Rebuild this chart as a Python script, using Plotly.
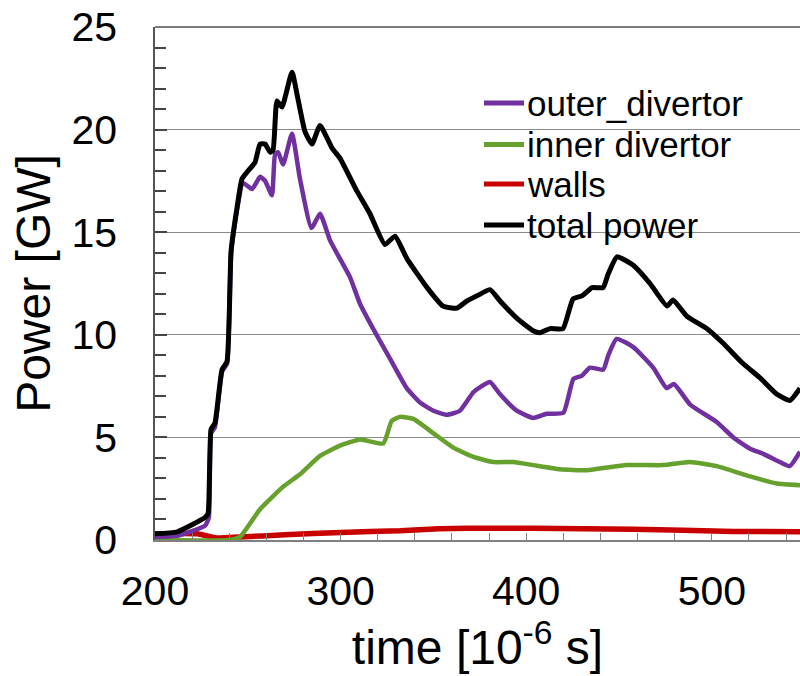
import plotly.graph_objects as go

# Time axis in microseconds, power in GW
t_total = [200, 212, 227, 228.6, 230.2, 232.3, 236.1, 238.8, 241, 244.2, 246.9, 251.2, 253.9,
           256.6, 259.3, 262, 263.6, 265.7, 268.4, 273.8, 277, 280.8, 284.6, 288.9, 295.4,
           299.7, 308.8, 315.8, 323.9, 329.3, 335.8, 346.6, 355.2, 362.7, 368.1, 373.5,
           380.5, 385.9, 395.0, 403.7, 407.4, 412.8, 419.8, 425.2, 430.1, 435.5, 441.4,
           444.1, 448.9, 457.5, 466.7, 475.9, 479.1, 486.6, 497.4, 506.0, 516.8, 526.0,
           535.1, 542.1, 547.5]
p_total = [0.3, 0.4, 1.1, 1.3, 5.4, 5.7, 8.3, 8.7, 14.1, 16.2, 17.6, 18.1, 18.4,
           19.3, 19.3, 18.9, 19.0, 21.4, 21.1, 22.8, 21.5, 19.9, 19.3, 20.2, 19.1,
           18.6, 17.0, 15.9, 14.4, 14.8, 13.7, 12.3, 11.4, 11.3, 11.65, 11.9,
           12.2, 11.65, 10.8, 10.2, 10.1, 10.3, 10.3, 11.75, 11.9, 12.3, 12.3,
           12.95, 13.8, 13.4, 12.5, 11.4, 11.7, 10.9, 10.3, 9.6, 8.6, 7.9,
           7.1, 6.8, 7.4]

t_outer = [200, 212, 227, 229, 230.2, 232.3, 236.1, 238.8, 241, 244.2, 247.4, 252.3, 256.6,
           259.3, 263, 264.7, 266.3, 269, 273.8, 278.1, 284.3, 288.9, 294.3, 299.7,
           305.1, 310.5, 317.5, 325, 335.6, 342.8, 350, 357.2, 364.3, 371.5, 376,
           380.5, 385.9, 394.9, 403.8, 411, 420, 425.4, 429.9, 434.4, 441.5, 444.2,
           448.7, 457.7, 468.4, 475.7, 479.6, 488.3, 502.6, 511.6, 520.6, 527.7,
           536.7, 542, 547.5]
p_outer = [0.15, 0.2, 0.7, 1.1, 5.2, 5.5, 8.2, 8.6, 14.0, 16.1, 17.4, 17.1, 17.7,
           17.5, 16.8, 18.8, 18.9, 18.3, 19.8, 17.6, 15.2, 15.9, 14.6, 13.7,
           12.8, 11.5, 10.3, 9.1, 7.4, 6.7, 6.3, 6.1, 6.3, 7.2, 7.5,
           7.7, 7.1, 6.3, 5.95, 6.15, 6.2, 7.85, 8.0, 8.4, 8.3, 9.0,
           9.8, 9.4, 8.4, 7.4, 7.6, 6.6, 5.75, 5.0, 4.45, 4.2,
           3.8, 3.6, 4.3]

t_inner = [200, 240, 245.8, 256.6, 269.1, 278.1, 288.9, 299.7, 310.5, 323, 327.5, 332,
           339.2, 350, 360.7, 371.5, 382.3, 393.1, 403.8, 418.2, 432.6, 454.1, 473.9,
           488.3, 502.6, 520.6, 535, 547.5]
p_inner = [0.0, 0.0, 0.15, 1.5, 2.6, 3.2, 4.1, 4.6, 4.9, 4.7, 5.8, 6.0,
           5.9, 5.2, 4.5, 4.05, 3.8, 3.8, 3.65, 3.45, 3.4, 3.65, 3.65,
           3.8, 3.6, 3.1, 2.75, 2.67]

t_walls = [200, 222.6, 233.2, 245.8, 270, 300, 332, 353, 368, 404, 457.6, 511.6, 547.5]
p_walls = [0.3, 0.3, 0.1, 0.15, 0.25, 0.37, 0.45, 0.55, 0.57, 0.57, 0.52, 0.42, 0.4]

series = [
    ("outer_divertor", t_outer, p_outer, "#7030a0", 4.5),
    ("inner divertor", t_inner, p_inner, "#66a12e", 4.5),
    ("walls", t_walls, p_walls, "#c80000", 5.5),
    ("total power", t_total, p_total, "#000000", 5),
]

x_ticks = [200, 300, 400, 500]
y_ticks = [0, 5, 10, 15, 20, 25]
x_range = [200, 547.5]
y_range = [0, 25]

FONT = "Liberation Sans, Arial, sans-serif"
H = 676
TOP, BOTTOM, LEFT = 27, 136, 155
PLOT_H = H - TOP - BOTTOM
PLOT_W = 800 - LEFT

fig = go.Figure()
# draw order: walls and inner first, total on top
for name, t, p, color, w in [series[2], series[1], series[0], series[3]]:
    fig.add_trace(go.Scatter(x=t, y=p, mode="lines", name=name,
                             line=dict(color=color, width=w, shape="spline", smoothing=0.45),
                             showlegend=False, hoverinfo="skip"))

# legend rows: short coloured bar followed by the series name
legend_y = [103, 144.5, 184, 225]
for (name, t, p, color, w), ly in zip(series, legend_y):
    yy = 1 - (ly - TOP) / PLOT_H
    fig.add_shape(type="line", xref="paper", yref="paper",
                  x0=(484 - LEFT) / PLOT_W, x1=(524 - LEFT) / PLOT_W, y0=yy, y1=yy,
                  line=dict(color=color, width=5))
    fig.add_annotation(text=name, xref="paper", yref="paper",
                       x=(525 - LEFT) / PLOT_W, y=yy, xanchor="left", yanchor="middle",
                       showarrow=False, font=dict(family=FONT, size=35, color="#000000"))

# dark frame line along the top of the plotting area
fig.add_shape(type="line", xref="paper", yref="paper", x0=0, x1=1, y0=1, y1=1,
              line=dict(color="#505050", width=1.5))

fig.update_layout(
    width=800, height=H,
    margin=dict(l=LEFT, r=0, t=TOP, b=BOTTOM, autoexpand=False),
    paper_bgcolor="white", plot_bgcolor="white",
    font=dict(family=FONT, color="#000000"),
)

fig.update_xaxes(
    range=x_range, tickmode="array", tickvals=x_ticks, ticktext=[str(v) for v in x_ticks],
    ticks="inside", ticklen=7, tickwidth=1, tickcolor="#808080",
    minor=dict(dtick=20, tick0=200, ticks="inside", ticklen=7, tickwidth=1, tickcolor="#808080"),
    showline=True, linecolor="#808080", linewidth=1.5,
    showgrid=False, zeroline=False,
    tickfont=dict(family=FONT, size=41, color="#000000"),
    ticklabelstandoff=14,
    title=dict(text="time [10<sup>-6</sup> s]", font=dict(family=FONT, size=48, color="#000000"),
               standoff=8),
)
fig.update_yaxes(
    range=y_range, tickmode="array", tickvals=y_ticks, ticktext=[str(v) for v in y_ticks],
    ticks="inside", ticklen=12, tickwidth=1.5, tickcolor="#444444",
    minor=dict(dtick=1, tick0=0, ticks="inside", ticklen=11, tickwidth=1.5, tickcolor="#444444"),
    showline=True, linecolor="#555555", linewidth=1.5,
    showgrid=True, gridcolor="#8c8c8c", gridwidth=1.2,
    zeroline=False,
    tickfont=dict(family=FONT, size=41, color="#000000"),
    ticklabelstandoff=28,
    title=dict(text="Power [GW]", font=dict(family=FONT, size=48, color="#000000"),
               standoff=6),
)

fig.write_html("out.html")
